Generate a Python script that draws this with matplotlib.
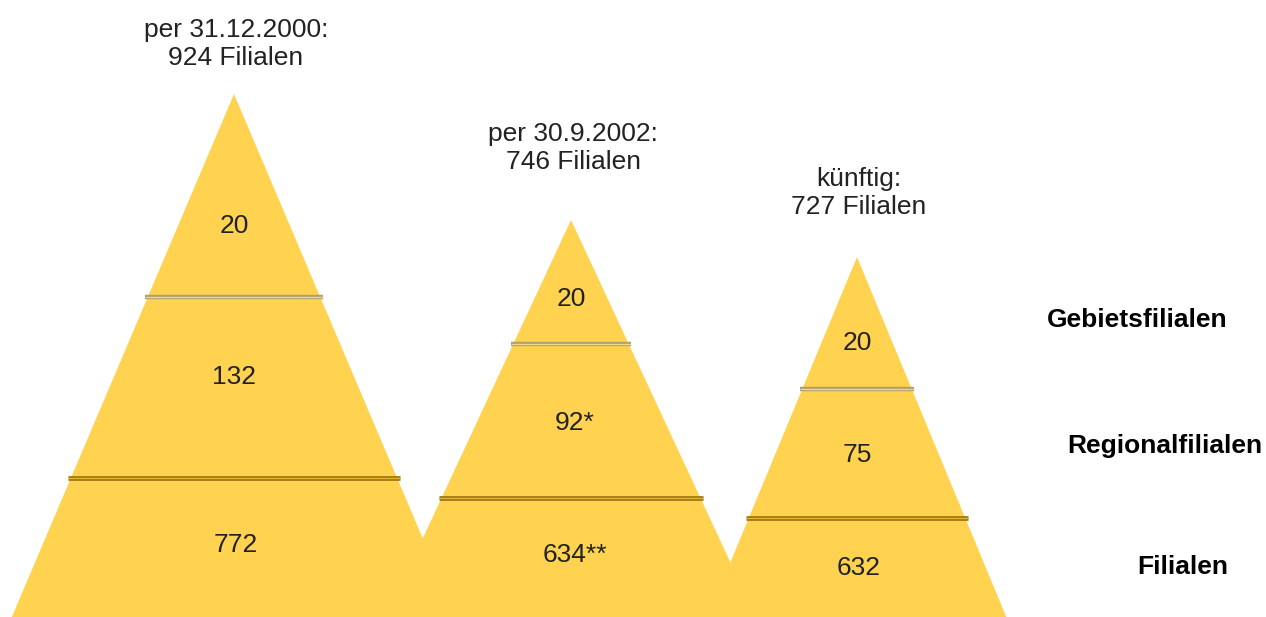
import matplotlib.pyplot as plt
from matplotlib.patches import Polygon

plt.rcParams['font.family'] = ['Liberation Sans', 'DejaVu Sans']

# data
titles = ['per 31.12.2000:\n924 Filialen', 'per 30.9.2002:\n746 Filialen', 'künftig:\n727 Filialen']
top_vals = ['20', '20', '20']
mid_vals = ['132', '92*', '75']
low_vals = ['772', '634**', '632']
level_names = ['Gebietsfilialen', 'Regionalfilialen', 'Filialen']

# layout (pixel space, y downwards)
apex_x = [234, 571, 857]
apex_y = [94, 220, 257]
slopes = [0.4264, 0.468, 0.417]
sep1_y = [297, 344, 389]
sep2_y = [478, 498, 518]
top_lbl_y = [226, 299, 343]
mid_lbl_y = [377, 423, 455]
low_lbl_y = [545, 555, 568]
title_y = [44, 148, 193]
name_x = [1228, 1262, 1228]
name_y = [320, 446, 567]
base_y = 617

yellow = '#ffd250'
txt = '#222222'
fs = 19

fig = plt.figure(figsize=(12.66, 6.17), dpi=100)
ax = fig.add_axes([0, 0, 1, 1])
ax.set_xlim(0, 1266)
ax.set_ylim(617, 0)
ax.axis('off')

for i in range(3):
    ax0, ay, s = apex_x[i], apex_y[i], slopes[i]
    h = base_y - ay
    tri = Polygon([(ax0, ay), (ax0 - s * h, base_y + 2), (ax0 + s * h, base_y + 2)],
                  closed=True, facecolor=yellow, edgecolor='none', zorder=1)
    ax.add_patch(tri)

for i in range(3):
    ax0, ay, s = apex_x[i], apex_y[i], slopes[i]
    # upper separator, greyish double line
    hw = s * (sep1_y[i] - ay) + 2
    ax.plot([ax0 - hw, ax0 + hw], [sep1_y[i]] * 2, color='#b0a070', lw=3.2,
            solid_capstyle='butt', zorder=3)
    ax.plot([ax0 - hw, ax0 + hw], [sep1_y[i]] * 2, color='#f0d890', lw=0.9,
            solid_capstyle='butt', zorder=4)
    # lower separator, darker gold double line
    hw = s * (sep2_y[i] - ay) + 2
    ax.plot([ax0 - hw, ax0 + hw], [sep2_y[i]] * 2, color='#9a7414', lw=3.4,
            solid_capstyle='butt', zorder=3)
    ax.plot([ax0 - hw, ax0 + hw], [sep2_y[i]] * 2, color='#e8b42c', lw=1.0,
            solid_capstyle='butt', zorder=4)

    ax.text(ax0, top_lbl_y[i], top_vals[i], ha='center', va='center', fontsize=fs, color=txt, zorder=5)
    ax.text(ax0 + (4 if i == 1 else 0), mid_lbl_y[i], mid_vals[i], ha='center', va='center',
            fontsize=fs, color=txt, zorder=5)
    ax.text(ax0 + (4 if i == 1 else 2), low_lbl_y[i], low_vals[i], ha='center', va='center',
            fontsize=fs, color=txt, zorder=5)
    ax.text(ax0 + 2, title_y[i], titles[i], ha='center', va='center', fontsize=fs,
            color=txt, linespacing=1.2, zorder=5)

for n, x, y in zip(level_names, name_x, name_y):
    ax.text(x, y, n, ha='right', va='center', fontsize=fs, fontweight='bold', color='black')

fig.savefig('out.png', dpi=100)
